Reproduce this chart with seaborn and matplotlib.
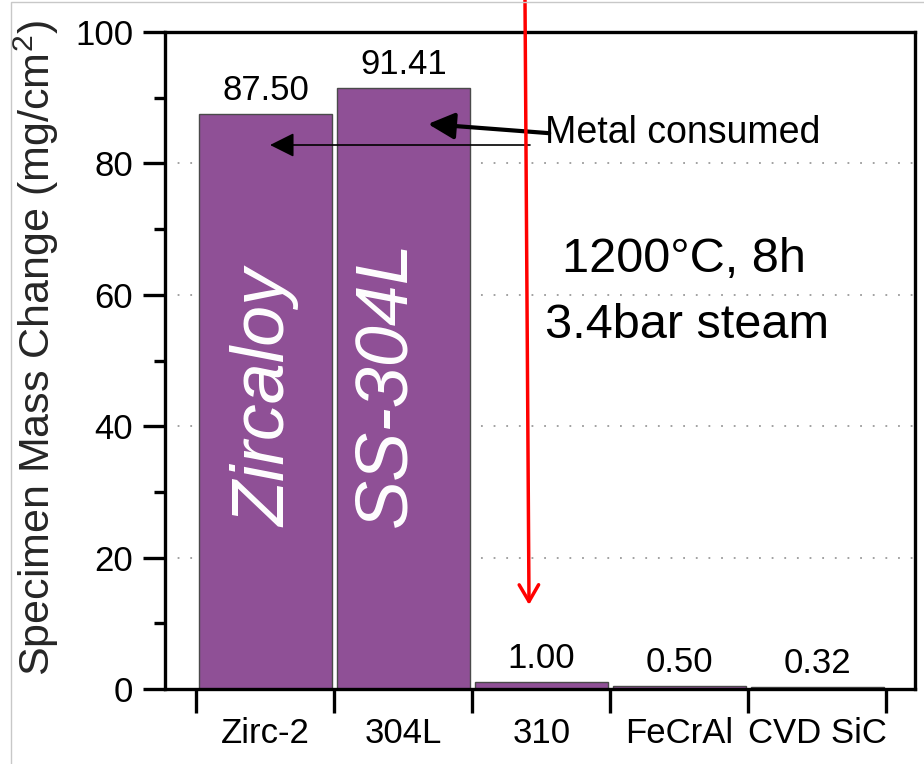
import numpy as np
import pandas as pd
import matplotlib
matplotlib.use("Agg")
import matplotlib.pyplot as plt
from matplotlib.patches import Rectangle
import seaborn as sns

# ---- data ----
categories = ["Zirc-2", "304L", "310", "FeCrAl", "CVD SiC"]
mass_change = [87.50, 91.41, 1.00, 0.50, 0.32]
inbar_labels = ["Zircaloy", "SS-304L"]
y_ticks = [0, 20, 40, 60, 80, 100]
y_minor_ticks = [10, 30, 50, 70, 90]
annot_text = "Metal consumed"
cond_line1 = "1200°C, 8h"
cond_line2 = "3.4bar steam"

sns.set_theme(style="white")
plt.rcParams["font.family"] = ["Liberation Sans", "DejaVu Sans"]
plt.rcParams["mathtext.fontset"] = "custom"
plt.rcParams["mathtext.rm"] = "Liberation Sans"
plt.rcParams["mathtext.it"] = "Liberation Sans:italic"

purple = "#8f5096"

fig = plt.figure(figsize=(9.24, 7.64), dpi=100)
ax = fig.add_axes([165 / 924, 75 / 764, 750 / 924, 657 / 764])

df = pd.DataFrame({"material": categories, "value": mass_change})
sns.barplot(data=df, x="material", y="value", color=purple, saturation=1,
            width=0.96, edgecolor="#4a4a4a", linewidth=1, ax=ax, zorder=2)

ax.set_xlim(-0.728, 4.707)
ax.set_ylim(0, 100)
ax.set_xlabel("")
ax.set_ylabel("Specimen Mass Change (mg/cm$^{2}$)", fontsize=31, va="center", ha="center")
ax.yaxis.set_label_coords(-0.172, 0.519)

# x ticks: marks at boundaries, labels at centres
ax.set_xticks(np.arange(-0.5, len(categories), 1.0))
ax.set_xticklabels([])
ax.set_xticks(np.arange(len(categories)), minor=True)
ax.set_xticklabels(categories, minor=True)
ax.tick_params(axis="x", which="major", direction="out", length=17, width=2.4,
               color="black", bottom=True)
ax.tick_params(axis="x", which="minor", length=0, labelsize=25, pad=20,
               labelcolor="black", bottom=True)

ax.set_yticks(y_ticks)
ax.set_yticklabels([str(v) for v in y_ticks])
ax.set_yticks(y_minor_ticks, minor=True)
ax.tick_params(axis="y", which="major", direction="out", length=16, width=2.4,
               labelsize=25, pad=7, color="black", left=True, labelcolor="black")
ax.tick_params(axis="y", which="minor", direction="out", length=8, width=2.4,
               color="black", left=True)

for s in ax.spines.values():
    s.set_visible(True)
    s.set_linewidth(2.4)
    s.set_color("black")

ax.set_axisbelow(True)
ax.grid(axis="y", which="major", linestyle=(0, (1, 6)), color="#9a9a9a", lw=1.3)
ax.grid(axis="x", visible=False)

ax.bar_label(ax.containers[0], fmt="%.2f", padding=5, fontsize=25, color="black")

# white italic labels inside tall bars
ax.text(0.0, 24.7, inbar_labels[0], rotation=90, rotation_mode="anchor",
        ha="left", va="center", color="white", fontsize=53, style="italic", zorder=3)
ax.text(0.87, 24.7, inbar_labels[1], rotation=90, rotation_mode="anchor",
        ha="left", va="center", color="white", fontsize=53, style="italic", zorder=3)

# "Metal consumed" with arrows
ax.text(2.025, 84.6, annot_text, ha="left", va="center", fontsize=27, color="black")
ax.annotate("", xy=(1.178, 86.0), xytext=(2.056, 84.6),
            arrowprops=dict(arrowstyle="-|>,head_length=1.6,head_width=0.8",
                            lw=3, color="black", mutation_scale=10,
                            shrinkA=0, shrinkB=0), zorder=4)
ax.annotate("", xy=(0.033, 82.8), xytext=(1.917, 82.8),
            arrowprops=dict(arrowstyle="-|>,head_length=1.5,head_width=0.75",
                            lw=1.2, color="black", mutation_scale=10,
                            shrinkA=0, shrinkB=0), zorder=4)

# conditions text
ax.text(2.149, 63.5, cond_line1, ha="left", va="baseline", fontsize=35, color="black")
ax.text(2.025, 53.4, cond_line2, ha="left", va="baseline", fontsize=35, color="black")

# red arrow from top of figure
ax.annotate("", xy=(1.91, 12.8), xycoords="data",
            xytext=(525 / 924, 1.0), textcoords="figure fraction",
            arrowprops=dict(arrowstyle="->,head_length=1.2,head_width=0.7",
                            lw=2.5, color="#ff0000", mutation_scale=10,
                            shrinkA=0, shrinkB=0),
            annotation_clip=False, zorder=5)

# light grey frame of the picture
fig.add_artist(Rectangle((11 / 924, -0.01), 1.0, 762 / 764 + 0.01,
                         transform=fig.transFigure, fill=False,
                         edgecolor="#c8c8c8", lw=1))

fig.savefig("out.png", dpi=100)
